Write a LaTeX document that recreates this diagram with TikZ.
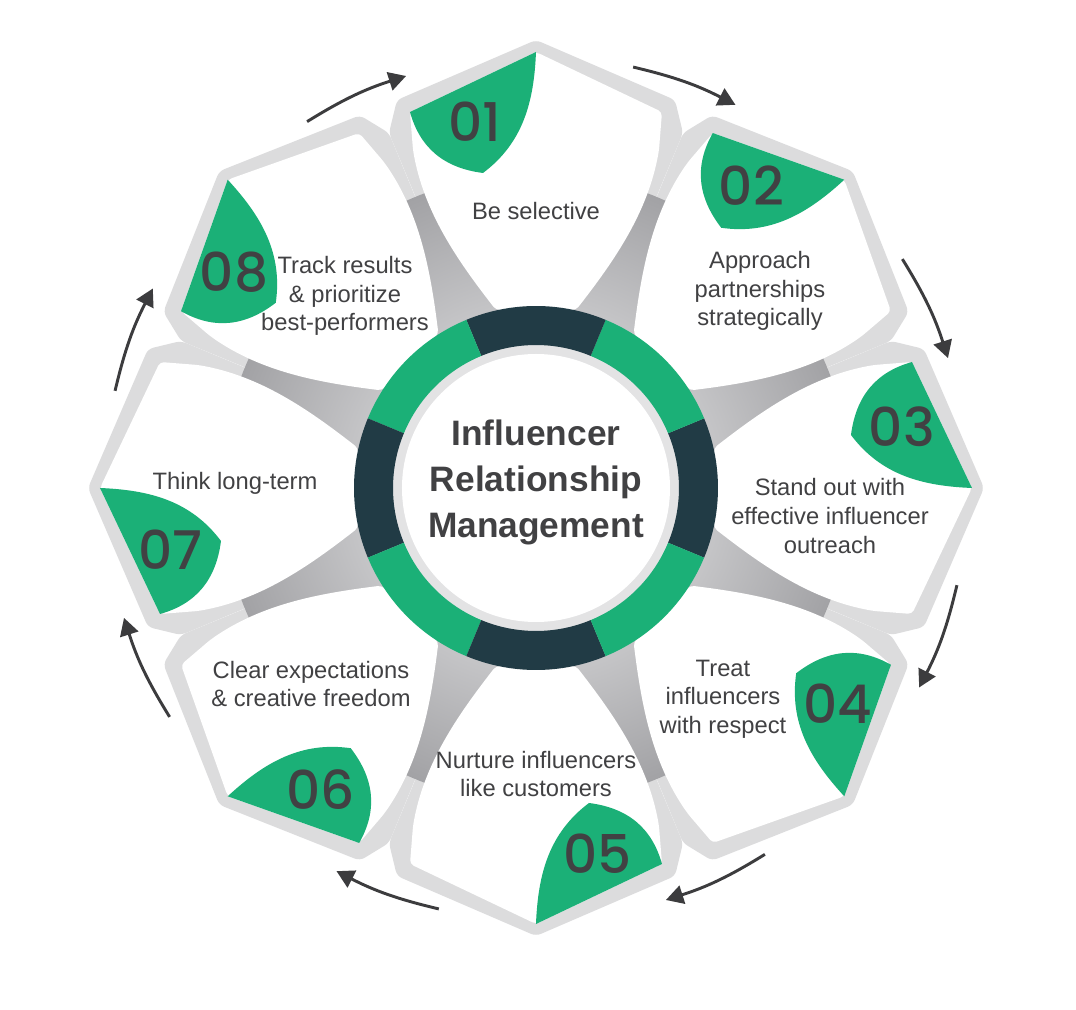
\documentclass[tikz,border=0pt]{standalone}
\usepackage{fontspec}
\setmainfont{Liberation Sans}
\newfontfamily\numfont{Poppins Medium}
\usepackage{tikz}
\usetikzlibrary{positioning,arrows.meta}
\definecolor{leafgreen}{HTML}{1BB077}
\definecolor{ringdark}{HTML}{213B45}
\definecolor{rimgray}{HTML}{DCDCDD}
\definecolor{spokein}{HTML}{F4F4F5}
\definecolor{spokeout}{HTML}{A2A2A5}
\definecolor{inkgray}{HTML}{414143}
\definecolor{arrowgray}{HTML}{3C3C3E}
\tikzstyle{petaltext} = [text=inkgray, align=center, inner sep=0pt, font=\fontsize{17.8}{21.4}\selectfont]
\tikzstyle{badgenum} = [text=inkgray, inner sep=0pt, font=\numfont\fontsize{40}{40}\selectfont]
\tikzstyle{hubtitle} = [text=inkgray, align=center, inner sep=0pt, font=\bfseries\fontsize{26.5}{34.5}\selectfont]
\tikzstyle{connect} = [arrowgray, line width=2.2pt, -{Triangle[length=13pt,width=14pt]}]

\begin{document}
\begin{tikzpicture}[x=0.75pt, y=0.75pt]
			\useasboundingbox (-536,-522) rectangle (540,488);
			\fill[white] (-536,-522) rectangle (540,488);
			%-----------------------------------------------
			% grey rims of the eight petals
			\foreach \a in {90,45,0,-45,-90,-135,-180,-225}{
				\begin{scope}[rotate=\a]
				\fill[rimgray, rounded corners=4pt] (170,-70) -- (355,-147) -- (388,-139) -- (448,0) -- (388,139) -- (355,147) -- (170,70) -- cycle;
				\end{scope}
			}
			\shade[inner color=spokein, outer color=spokeout] (0,0) circle (315);
			%-----------------------------------------------
			% white faces and green corners
			\foreach \a in {90,45,0,-45,-90,-135,-180,-225}{
				\begin{scope}[rotate=\a]
				\fill[white, rounded corners=3pt] (178,-40) .. controls (228,-79) and (276,-112) .. (338,-123) -- (376,-126) -- (436,0) -- (376,126) -- (338,123) .. controls (276,112) and (228,79) .. (178,40) -- cycle;
				\fill[leafgreen] (376,126) -- (436,0) .. controls (386,2) and (345,13) .. (315,53) .. controls (320,92) and (340,116) .. (376,126) -- cycle;
				\end{scope}
			}
			%-----------------------------------------------
			% hub
			\fill[rimgray!80!white] (0,0) circle (143);
			\fill[white] (0,0) circle (134);
			\foreach \a/\c in {0/ringdark,45/leafgreen,90/ringdark,135/leafgreen,180/ringdark,225/leafgreen,270/ringdark,315/leafgreen}{
				\fill[\c] (\a-22.5:182) arc[start angle=\a-22.5, end angle=\a+22.5, radius=182] -- (\a+22.5:143) arc[start angle=\a+22.5, end angle=\a-22.5, radius=143] -- cycle;
			}
			\node (hub) [hubtitle] at (0,6) {Influencer\\Relationship\\Management};
			%-----------------------------------------------
			\node (t1) [petaltext] at (0,277) {Be selective};
			\node (t2) [petaltext] at (224,197) {Approach\\partnerships\\strategically};
			\node (t3) [petaltext] at (294,-28) {Stand out with\\effective influencer\\outreach};
			\node (t4) [petaltext] at (187,-211) {Treat\\influencers\\with respect};
			\node (t5) [petaltext] at (0,-286) {Nurture influencers\\like customers};
			\node (t6) [petaltext] at (-225,-196) {Clear expectations\\\& creative freedom};
			\node (t7) [petaltext] at (-301,5) {Think long-term};
			\node (t8) [petaltext] at (-191,192) {Track results\\\& prioritize\\best-performers};
			%-----------------------------------------------
			\node (n1) [badgenum] at (99.5:371) {01};
			\node (n2) [badgenum] at (54.5:371) {02};
			\node (n3) [badgenum] at (9.5:371) {03};
			\node (n4) [badgenum] at (-35.5:371) {04};
			\node (n5) [badgenum] at (-80.5:371) {05};
			\node (n6) [badgenum] at (-125.5:371) {06};
			\node (n7) [badgenum] at (-170.5:371) {07};
			\node (n8) [badgenum] at (-215.5:371) {08};
			%-----------------------------------------------
			%-----------------------------------------------
			\foreach \k in {1,...,8}{
				\coordinate (s\k) at ({167-45*\k}:432);
				\coordinate (e\k) at ({152.5-45*\k}:432);
			}
			\foreach \k in {1,...,8}{
				\draw [connect] (s\k) to[bend left=7] (e\k);
			}
\end{tikzpicture}
\end{document}
